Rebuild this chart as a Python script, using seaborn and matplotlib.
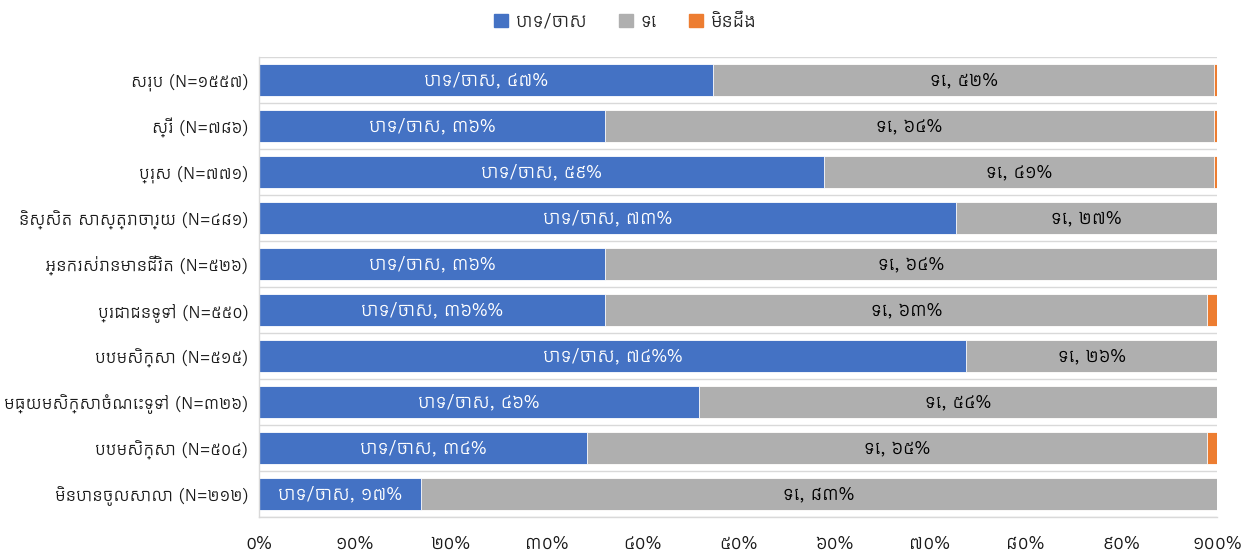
import numpy as np
import pandas as pd
import matplotlib
matplotlib.use("Agg")
import matplotlib.pyplot as plt
import seaborn as sns
from matplotlib import font_manager
from matplotlib.patches import Patch

# ---------------- data ----------------
categories = [
    "សរុប (N=១៥៥៧)",
    "ស្រី (N=៧៨៦)",
    "ប្រុស (N=៧៧១)",
    "និស្សិត សាស្ត្រាចារ្យ (N=៤៨១)",
    "អ្នករស់រានមានជីវិត (N=៥២៦)",
    "ប្រជាជនទូទៅ (N=៥៥០)",
    "បឋមសិក្សា (N=៥១៥)",
    "មធ្យមសិក្សាចំណេះទូទៅ (N=៣២៦)",
    "បឋមសិក្សា (N=៥០៤)",
    "មិនបានចូលសាលា (N=២១២)",
]
yes_vals = [47.4, 36.1, 59.0, 72.8, 36.1, 36.1, 73.8, 45.9, 34.2, 16.9]
no_vals = [52.3, 63.6, 40.7, 27.2, 63.9, 62.9, 26.2, 54.1, 64.8, 83.1]
dk_vals = [0.3, 0.3, 0.3, 0.0, 0.0, 1.0, 0.0, 0.0, 1.0, 0.0]
yes_labels = ["បាទ/ចាស, ៤៧%", "បាទ/ចាស, ៣៦%", "បាទ/ចាស, ៥៩%", "បាទ/ចាស, ៧៣%",
              "បាទ/ចាស, ៣៦%", "បាទ/ចាស, ៣៦%%", "បាទ/ចាស, ៧៤%%", "បាទ/ចាស, ៤៦%",
              "បាទ/ចាស, ៣៤%", "បាទ/ចាស, ១៧%"]
no_labels = ["ទេ, ៥២%", "ទេ, ៦៤%", "ទេ, ៤១%", "ទេ, ២៧%", "ទេ, ៦៤%",
             "ទេ, ៦៣%", "ទេ, ២៦%", "ទេ, ៥៤%", "ទេ, ៦៥%", "ទេ, ៨៣%"]
series_names = ["បាទ/ចាស", "ទេ", "មិនដឹង"]
xtick_labels = ["០%", "១០%", "២០%", "៣០%", "៤០%", "៥០%", "៦០%", "៧០%", "៨០%", "៩០%", "១០០%"]

colors = {"yes": "#4472C4", "no": "#AFAFAF", "dk": "#ED7D31"}

# ---------------- font ----------------
available = {f.name for f in font_manager.fontManager.ttflist}
khmer_choices = [n for n in ["Kantumruy Pro", "Noto Sans Khmer", "Hanuman", "Battambang"] if n in available]

sns.set_theme(style="white")
plt.rcParams["font.family"] = khmer_choices[:1] + ["DejaVu Sans"]

df = pd.DataFrame({"cat": categories, "yes": yes_vals, "no": no_vals, "dk": dk_vals})
df["yes_no"] = df["yes"] + df["no"]
df["total"] = df["yes_no"] + df["dk"]

fig = plt.figure(figsize=(12.58, 5.51), dpi=100)
ax = fig.add_axes([259 / 1258, 1 - 517 / 551, (1217 - 259) / 1258, (517 - 57) / 551])

bw = 0.68
sns.barplot(data=df, y="cat", x="total", order=categories, color=colors["dk"],
            saturation=1, width=bw, edgecolor="white", linewidth=0.6, ax=ax, orient="h")
sns.barplot(data=df, y="cat", x="yes_no", order=categories, color=colors["no"],
            saturation=1, width=bw, edgecolor="white", linewidth=0.6, ax=ax, orient="h")
sns.barplot(data=df, y="cat", x="yes", order=categories, color=colors["yes"],
            saturation=1, width=bw, edgecolor="white", linewidth=0.6, ax=ax, orient="h")

for i in range(len(categories)):
    ax.text(yes_vals[i] / 2, i, yes_labels[i], ha="center", va="center",
            color="white", fontsize=13.5, fontweight="bold")
    ax.text(yes_vals[i] + no_vals[i] / 2, i, no_labels[i], ha="center", va="center",
            color="black", fontsize=13.5, fontweight="bold")

ax.set_xlim(0, 100)
ax.set_ylim(len(categories) - 0.5, -0.5)
ax.set_xticks(np.arange(0, 101, 10))
ax.set_xticklabels(xtick_labels, fontsize=13.5, color="#1a1a1a")
ax.set_yticks(range(len(categories)))
ax.set_yticklabels(categories, fontsize=12.5, color="#1a1a1a")
ax.set_xlabel("")
ax.set_ylabel("")

ax.set_yticks(np.arange(-0.5, len(categories), 1), minor=True)
ax.grid(which="minor", axis="y", color="#D9D9D9", linewidth=1)
ax.grid(which="major", visible=False)
ax.set_axisbelow(True)
ax.tick_params(axis="y", which="both", length=0, pad=8)
ax.tick_params(axis="x", which="major", length=5, color="#D9D9D9", direction="out", pad=8)
for s in ["top", "right"]:
    ax.spines[s].set_visible(False)
for s in ["left", "bottom"]:
    ax.spines[s].set_color("#D9D9D9")
    ax.spines[s].set_linewidth(1)

handles = [Patch(color=colors["yes"], label=series_names[0]),
           Patch(color=colors["no"], label=series_names[1]),
           Patch(color=colors["dk"], label=series_names[2])]
fig.legend(handles=handles, loc="center", bbox_to_anchor=(0.497, 1 - 22 / 551), ncol=3,
           frameon=False, fontsize=13.5, handlelength=0.75, handleheight=0.75,
           handletextpad=0.4, columnspacing=1.7)

fig.savefig("out.png", dpi=100)
